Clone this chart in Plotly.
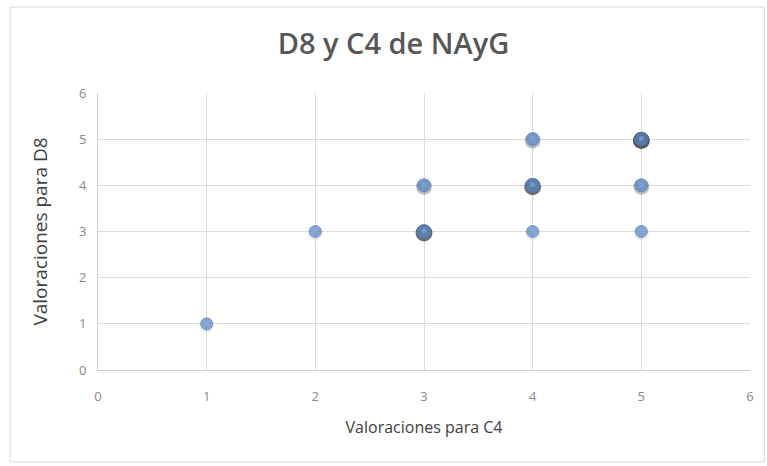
import plotly.graph_objects as go
from collections import Counter

# Individual ratings (C4, D8); repeated pairs overlap on the same spot
c4 = [1, 2, 3, 3, 3, 3, 3, 4, 4, 4, 4, 4, 4, 5, 5, 5, 5, 5, 5, 5]
d8 = [1, 3, 3, 3, 3, 4, 4, 3, 4, 4, 4, 5, 5, 3, 4, 4, 5, 5, 5, 5]

title = "D8 y C4 de NAyG"
x_title = "Valoraciones para C4"
y_title = "Valoraciones para D8"
tick_vals = [0, 1, 2, 3, 4, 5, 6]

counts = Counter(zip(c4, d8))
pts = list(counts.keys())
px_ = [p[0] for p in pts]
py_ = [p[1] for p in pts]
n = [counts[p] for p in pts]

fig = go.Figure()

# drop shadow that darkens as more observations share the same point
shadow_alpha = [min(0.95, 0.10 + (k - 1) ** 1.5 * 0.25) for k in n]
fig.add_trace(go.Scatter(
    x=px_, y=[v - 0.03 for v in py_], mode="markers",
    marker=dict(size=[14 + min(k, 3) for k in n],
                color=[f"rgba(0,0,8,{a:.2f})" for a in shadow_alpha],
                line=dict(width=0)),
    hoverinfo="skip", showlegend=False))
fig.add_trace(go.Scatter(
    x=px_, y=py_, mode="markers",
    marker=dict(size=[11 + min(k, 3) for k in n], color="#5887c4",
                line=dict(width=1, color="#4878b4")),
    showlegend=False))
fig.add_trace(go.Scatter(
    x=px_, y=[v + 0.015 for v in py_], mode="markers",
    marker=dict(size=5, color="rgba(135,175,225,0.55)", line=dict(width=0)),
    hoverinfo="skip", showlegend=False))

axis_common = dict(
    range=[0, 6], tickvals=tick_vals, showgrid=True, gridcolor="#dcdcdc",
    gridwidth=1, zeroline=False, showline=True, linecolor="#cfcfcf",
    linewidth=1, tickfont=dict(family="Open Sans", size=13, color="#8a8a8a"),
    ticks="outside", tickcolor="rgba(0,0,0,0)", fixedrange=True,
)

fig.update_layout(
    width=767, height=466,
    margin=dict(l=98, r=17, t=93, b=96),
    paper_bgcolor="white", plot_bgcolor="white",
    title=dict(text=title, x=0.513, xanchor="center", y=0.905, yanchor="middle",
               font=dict(family="Open Sans", size=29, color="#575757", weight=600)),
    xaxis=dict(**axis_common, ticklen=14,
               title=dict(text=x_title, standoff=18,
                          font=dict(family="Open Sans", size=16, color="#404040"))),
    yaxis=dict(**axis_common, ticklen=8,
               title=dict(text=y_title, standoff=26,
                          font=dict(family="Open Sans", size=19, color="#404040"))),
    shapes=[dict(type="rect", xref="paper", yref="paper",
                 x0=-0.135, x1=1.022, y0=-0.332, y1=1.31,
                 line=dict(color="#d9d9d9", width=1), layer="below")],
)

fig.write_html("out.html")
